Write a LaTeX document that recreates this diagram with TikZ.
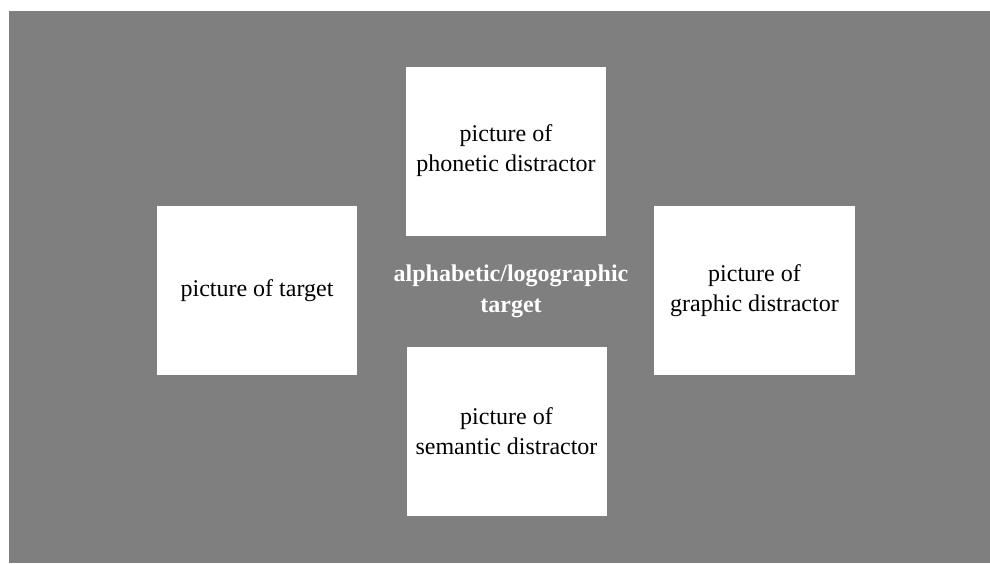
\documentclass[tikz,border=0pt]{standalone}
\usepackage{fontspec}
\setmainfont{Liberation Serif}
\usepackage{xcolor}
\definecolor{bgcolor}{HTML}{7F7F7F}
\usepackage{tikz}

\begin{document}
\begin{tikzpicture}[x=0.5pt, y=-0.5pt,
    picbox/.style={fill=white, inner sep=0pt, align=center,
      minimum width=100pt, minimum height=84.5pt,
      font=\fontsize{12}{15}\selectfont},
    cue/.style={white, align=center, inner sep=0pt,
      font=\fontsize{12}{15.5}\selectfont\bfseries}
]

  % Rahmen und grauer Hintergrund
  \useasboundingbox (0,0) rectangle (990,563);
  \fill[white] (0,0) rectangle (990,563);
  \fill[bgcolor] (9,11) rectangle (990,563);

  % Bildfelder
  \node[picbox] (phon) at (506,151) {picture of\\phonetic distractor};
  \node[picbox] (targ) at (257,290.5) {picture of target};
  \node[picbox, minimum width=100.5pt] (graph) at (754.5,290.5) {picture of\\graphic distractor};
  \node[picbox] (sem) at (506.5,431.5) {picture of\\semantic distractor};

  % Zielwort in der Mitte
  \node[cue] (word) at (511,291) {alphabetic/logographic\\target};

\end{tikzpicture}
\end{document}
